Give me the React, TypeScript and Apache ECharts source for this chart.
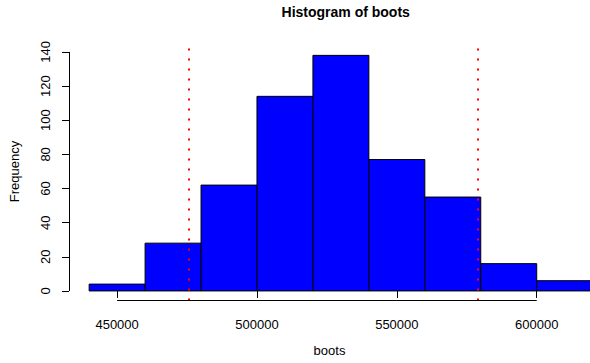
import React, { useEffect, useRef } from "react";
import * as echarts from "echarts";

const binStarts = [440000, 460000, 480000, 500000, 520000, 540000, 560000, 580000, 600000];
const binWidth = 20000;
const counts = [4, 28, 62, 114, 138, 77, 55, 16, 6];
const xTicks = [450000, 500000, 550000, 600000];
const yTicks = [0, 20, 40, 60, 80, 100, 120, 140];
const cutoffs = [475500, 579000];
const xMin = 432800;
// visible right edge of the (cropped) plot region
const xMax = 619050;
const yMin = -5.6;
const yMax = 145.6;

export default function App() {
  const ref = useRef<HTMLDivElement>(null);
  useEffect(() => {
    if (!ref.current) return;
    const chart = echarts.init(ref.current, null, { renderer: "svg" });
    const font = "'Liberation Sans', Arial, Helvetica, sans-serif";
    const data = binStarts.map((s, i) => [s, s + binWidth, counts[i]]);
    chart.setOption({
      animation: false,
      backgroundColor: "#ffffff",
      title: {
        text: "Histogram of boots",
        left: 340.7,
        textAlign: "center",
        top: 0,
        textStyle: { fontFamily: font, fontSize: 14, fontWeight: "bold", color: "#000" },
      },
      grid: { left: 68.5, top: 42.4, right: 0, height: 258.1, containLabel: false },
      xAxis: {
        type: "value",
        min: xMin,
        max: xMax,
        name: "boots",
        nameLocation: "middle",
        nameGap: 43,
        nameTextStyle: { fontFamily: font, fontSize: 13, color: "#000" },
        axisLine: { show: false },
        splitLine: { show: false },
        axisTick: { show: true, length: 7, customValues: xTicks, lineStyle: { color: "#000" } },
        axisLabel: {
          customValues: xTicks,
          margin: 17,
          fontFamily: font,
          fontSize: 13,
          color: "#000",
          formatter: (v: number) => String(v),
        },
      },
      yAxis: {
        type: "value",
        min: yMin,
        max: yMax,
        name: "Frequency",
        nameLocation: "middle",
        nameRotate: 90,
        nameGap: 48,
        nameTextStyle: { fontFamily: font, fontSize: 13, color: "#000" },
        axisLine: { show: false },
        splitLine: { show: false },
        axisTick: { show: true, length: 7, customValues: yTicks, lineStyle: { color: "#000" } },
        axisLabel: {
          customValues: yTicks,
          rotate: 90,
          margin: 17,
          fontFamily: font,
          fontSize: 13,
          color: "#000",
        },
      },
      series: [
        {
          type: "custom",
          clip: false,
          data,
          encode: { x: [0, 1], y: 2 },
          renderItem: (params: any, api: any) => {
            const p0 = api.coord([api.value(0), 0]);
            const p1 = api.coord([api.value(1), api.value(2)]);
            return {
              type: "rect",
              shape: { x: p0[0], y: p1[1], width: p1[0] - p0[0], height: p0[1] - p1[1] },
              style: { fill: "#0000FF", stroke: "#000000", lineWidth: 1 },
            };
          },
          markLine: {
            silent: true,
            symbol: "none",
            label: { show: false },
            data: [
              { xAxis: cutoffs[0], lineStyle: { color: "#FF0000", type: [2, 8], width: 2 } },
              { xAxis: cutoffs[1], lineStyle: { color: "#FF0000", type: [2, 8], width: 2 } },
              [
                { coord: [xTicks[0], yMin], lineStyle: { color: "#000", type: "solid", width: 1 } },
                { coord: [xTicks[xTicks.length - 1], yMin] },
              ],
              [
                { coord: [xMin, yTicks[0]], lineStyle: { color: "#000", type: "solid", width: 1 } },
                { coord: [xMin, yTicks[yTicks.length - 1]] },
              ],
            ],
          },
        },
      ],
    });
    return () => chart.dispose();
  }, []);
  return (
    <div
      ref={ref}
      style={{ position: "absolute", left: 0, top: 0, width: 590, height: 363, background: "#fff" }}
    />
  );
}
